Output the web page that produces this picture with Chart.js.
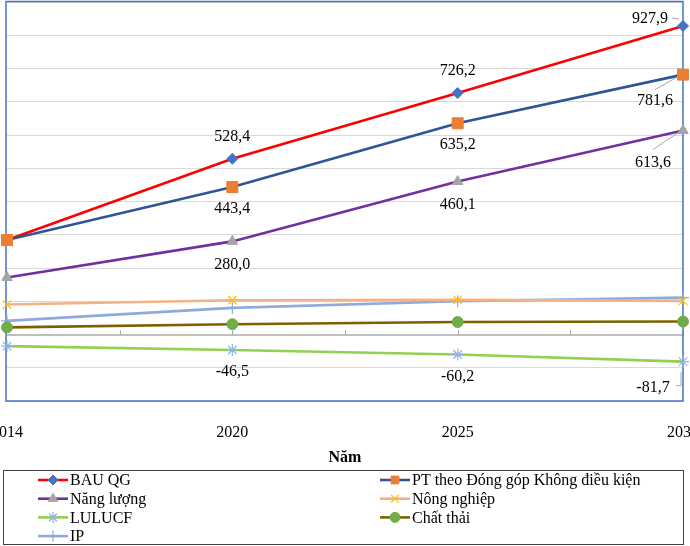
<!DOCTYPE html>
<html>
<head>
<meta charset="utf-8">
<script src="https://cdn.jsdelivr.net/npm/chart.js@4/dist/chart.umd.min.js"></script>
<style>
    html, body { margin: 0; padding: 0; background: #fff; }
</style>
</head>
<body>
<canvas id="myLineChart" width="690" height="546"></canvas>
<script>
// Các năm trên trục hoành
var years = ['2014', '2020', '2025', '2030'];

// Phát thải theo kịch bản (triệu tấn CO2tđ)
var bauQG = [284.0, 528.4, 726.2, 927.9];
var ptKhongDieuKien = [284.0, 443.4, 635.2, 781.6];
var nangLuong = [171.6, 280.0, 460.1, 613.6];
var nongNghiep = [90.0, 103.0, 104.0, 101.0];
var lulucf = [-35.0, -46.5, -60.2, -81.7];
var chatThai = [21.5, 31.0, 37.5, 39.0];
var ip = [41.0, 80.0, 100.0, 111.0];

// Trục tung (không hiện số)
var yMin = -200;
var yMax = 1000;
var yStep = 100;

var seriesNames = ['BAU QG', 'PT theo Đóng góp Không điều kiện', 'Năng lượng', 'Nông nghiệp', 'LULUCF', 'Chất thải', 'IP'];
var seriesValues = [bauQG, ptKhongDieuKien, nangLuong, nongNghiep, lulucf, chatThai, ip];

var FONT = "'Liberation Serif', 'Times New Roman', serif";

// Màu đường và điểm
var styles = [
    { line: '#ff0000', point: '#4472c4', pointStyle: 'rectRot', radius: 5.5 },
    { line: '#2f5597', point: '#ed7d31', pointStyle: 'rect', radius: 7.8 },
    { line: '#7030a0', point: '#a5a5a5', pointStyle: 'triangle', radius: 6 },
    { line: '#f4b183', point: '#ffc000', pointStyle: 'crossRot', radius: 6 },
    { line: '#92d050', point: '#8fb4e3', pointStyle: 'star', radius: 6 },
    { line: '#7f6000', point: '#70ad47', pointStyle: 'circle', radius: 5.5 },
    { line: '#8faadc', point: '#8faadc', pointStyle: 'cross', radius: 6 }
];

// Nhãn giá trị: vị trí so với điểm, điểm cuối có đường dẫn
var labelSetup = {
    0: { dy: -22, last: { dx: -33, dy: -7, leader: [[-11, -8], [-4, -7]] } },
    1: { dy: 22, last: { dx: -28, dy: 26, leader: [[-28, 15], [-5, 2]] } },
    2: { dy: 23, last: { dx: -30, dy: 32, leader: [[-30, 19], [-3, 1]] } },
    4: { dy: 22, last: { dx: -30, dy: 26, leader: [[-7, 24], [-2, 24], [-2, 10]] } }
};

function fmt(v) {
    return v.toFixed(1).replace('.', ',');
}

var datasets = seriesNames.map(function (name, i) {
    var s = styles[i];
    var isCross = s.pointStyle === 'cross' || s.pointStyle === 'crossRot' || s.pointStyle === 'star';
    return {
        label: name,
        data: seriesValues[i],
        borderColor: s.line,
        borderWidth: 2.6,
        pointStyle: s.pointStyle,
        pointRadius: s.radius,
        pointHoverRadius: s.radius,
        pointBackgroundColor: s.point,
        pointBorderColor: s.point,
        pointBorderWidth: isCross ? 1.2 : 1,
        tension: 0,
        clip: false,
        // BAU vẽ dưới đường PT (điểm 2014 trùng nhau)
        order: i === 0 ? 1 : 0
    };
});

// Khung xanh quanh vùng vẽ và vạch chia trên trục 0
var framePlugin = {
    id: 'frame',
    beforeDatasetsDraw: function (chart) {
        var ctx = chart.ctx;
        var a = chart.chartArea;
        var xs = chart.scales.x;
        var y0 = chart.scales.y.getPixelForValue(0);
        ctx.save();
        ctx.strokeStyle = '#a6a6a6';
        ctx.lineWidth = 1;
        for (var k = 0.5; k <= years.length - 1; k += 0.5) {
            var x = Math.round(xs.getPixelForValue(k)) + 0.5;
            ctx.beginPath();
            ctx.moveTo(x, y0 - 4);
            ctx.lineTo(x, y0);
            ctx.stroke();
        }
        ctx.strokeStyle = '#4472c4';
        ctx.lineWidth = 1.5;
        ctx.strokeRect(a.left - 1, a.top - 0.5, a.right - a.left + 1, a.bottom - a.top + 0.5);
        ctx.restore();
    }
};

// Nhãn số liệu
var labelPlugin = {
    id: 'valueLabels',
    afterDatasetsDraw: function (chart) {
        var ctx = chart.ctx;
        ctx.save();
        ctx.font = '16px ' + FONT;
        ctx.textAlign = 'center';
        ctx.textBaseline = 'middle';
        Object.keys(labelSetup).forEach(function (key) {
            var idx = parseInt(key, 10);
            var cfg = labelSetup[idx];
            var meta = chart.getDatasetMeta(idx);
            var values = chart.data.datasets[idx].data;
            meta.data.forEach(function (pt, j) {
                if (j === 0) return;
                var text = fmt(values[j]);
                if (j === values.length - 1 && cfg.last) {
                    var L = cfg.last;
                    ctx.strokeStyle = '#a6a6a6';
                    ctx.lineWidth = 1;
                    ctx.beginPath();
                    L.leader.forEach(function (p, n) {
                        if (n === 0) ctx.moveTo(pt.x + p[0], pt.y + p[1]);
                        else ctx.lineTo(pt.x + p[0], pt.y + p[1]);
                    });
                    ctx.stroke();
                    ctx.fillStyle = '#000';
                    ctx.fillText(text, pt.x + L.dx, pt.y + L.dy);
                } else {
                    ctx.fillStyle = '#000';
                    ctx.fillText(text, pt.x, pt.y + cfg.dy);
                }
            });
        });
        ctx.restore();
    }
};

// Chú thích hai cột có khung
var legendPlugin = {
    id: 'boxLegend',
    afterDraw: function (chart) {
        var ctx = chart.ctx;
        ctx.save();
        ctx.strokeStyle = '#404040';
        ctx.lineWidth = 1;
        ctx.strokeRect(3.5, 470.5, 680, 74);
        ctx.font = '16px ' + FONT;
        ctx.textAlign = 'left';
        ctx.textBaseline = 'middle';
        chart.data.datasets.forEach(function (ds, i) {
            var col = i % 2;
            var row = Math.floor(i / 2);
            var x = col === 0 ? 38 : 380;
            var y = 480 + row * 18.7;
            ctx.strokeStyle = ds.borderColor;
            ctx.lineWidth = 2.6;
            ctx.beginPath();
            ctx.moveTo(x, y);
            ctx.lineTo(x + 30, y);
            ctx.stroke();
            ctx.fillStyle = ds.pointBackgroundColor;
            ctx.strokeStyle = ds.pointBorderColor;
            ctx.lineWidth = ds.pointBorderWidth;
            Chart.helpers.drawPoint(ctx, {
                pointStyle: ds.pointStyle,
                radius: Math.min(ds.pointRadius, 6) - 0.5,
                rotation: 0,
                borderWidth: ds.pointBorderWidth
            }, x + 15, y);
            ctx.fillStyle = '#000';
            ctx.fillText(ds.label, x + 32, y + 1);
        });
        ctx.restore();
    }
};

var ctx = document.getElementById('myLineChart').getContext('2d');

var myLineChart = new Chart(ctx, {
    type: 'line',
    data: {
        labels: years,
        datasets: datasets
    },
    options: {
        responsive: false,
        animation: false,
        layout: {
            autoPadding: false,
            padding: { left: 7, right: 7, top: 2, bottom: 78 }
        },
        plugins: {
            legend: { display: false },
            tooltip: { enabled: false },
            title: { display: false }
        },
        scales: {
            x: {
                offset: false,
                grid: { display: false, drawTicks: false },
                border: { display: false },
                ticks: {
                    padding: 22,
                    color: '#000',
                    maxRotation: 0,
                    autoSkip: false,
                    font: { family: FONT, size: 16 }
                },
                title: {
                    display: true,
                    text: 'Năm',
                    color: '#000',
                    padding: { top: 0, bottom: 1 },
                    font: { family: FONT, size: 16, weight: 'bold' }
                },
                afterFit: function (scale) {
                    scale.paddingLeft = 0;
                    scale.paddingRight = 0;
                    scale.height = 67;
                }
            },
            y: {
                min: yMin,
                max: yMax,
                ticks: { display: false, stepSize: yStep },
                border: { display: false },
                grid: {
                    drawTicks: false,
                    color: function (c) { return c.tick && c.tick.value === 0 ? '#bfbfbf' : '#d9d9d9'; },
                    lineWidth: function (c) { return c.tick && c.tick.value === 0 ? 2 : 1; }
                },
                afterFit: function (scale) {
                    scale.width = 0;
                    scale.paddingTop = 0;
                    scale.paddingBottom = 0;
                }
            }
        }
    },
    plugins: [framePlugin, labelPlugin, legendPlugin]
});
</script>
</body>
</html>
